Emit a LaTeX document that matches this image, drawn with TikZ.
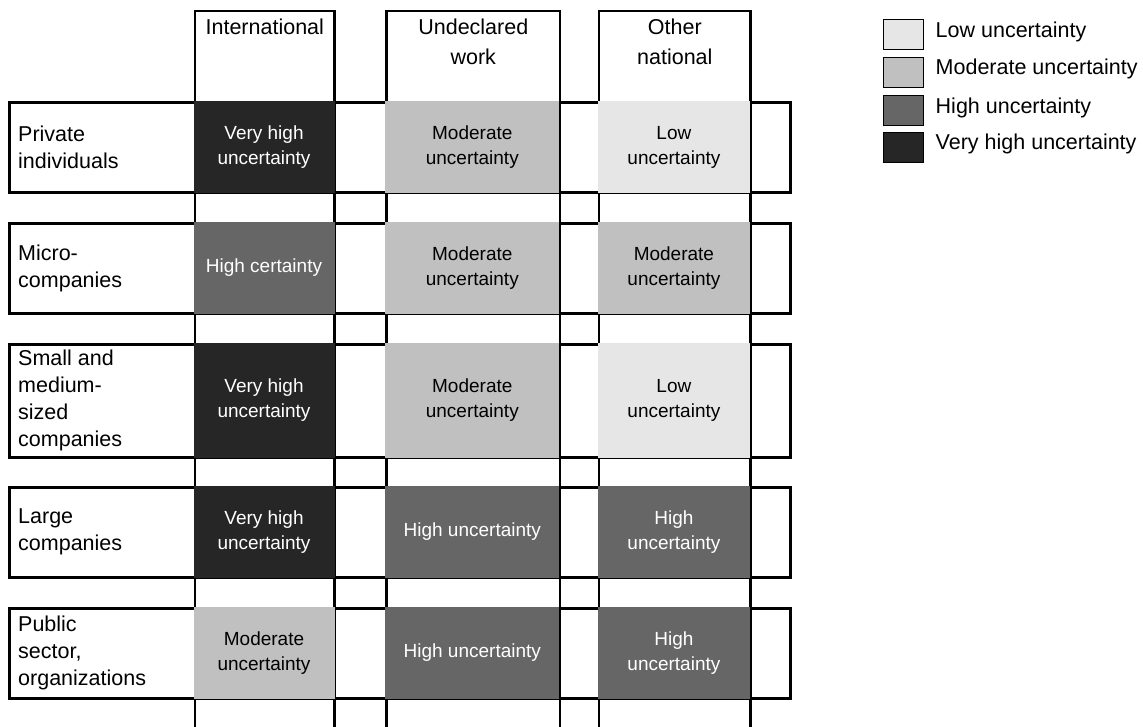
\documentclass[tikz,border=0pt]{standalone}
\usepackage{fontspec}
\setmainfont{Liberation Sans}
\usetikzlibrary{positioning}

\definecolor{lowunc}{HTML}{E6E6E6}
\definecolor{modunc}{HTML}{C0C0C0}
\definecolor{highunc}{HTML}{666666}
\definecolor{vhighunc}{HTML}{262626}

\tikzset{
  rowbox/.style={draw, line width=3pt},
  colbox/.style={draw, line width=2.5pt},
  head/.style={anchor=north, inner sep=0pt, align=center, font=\fontsize{21.5}{30}\selectfont},
  rowlabel/.style={anchor=west, inner sep=0pt, align=left, font=\fontsize{21.5}{27}\selectfont},
  cell/.style={inner sep=0pt, align=center, font=\fontsize{19}{25}\selectfont},
  lowcell/.style={cell, fill=lowunc, text=black},
  modcell/.style={cell, fill=modunc, text=black},
  highcell/.style={cell, fill=highunc, text=white},
  vhighcell/.style={cell, fill=vhighunc, text=white},
  intlcol/.style={minimum width=141pt},
  undcol/.style={minimum width=174pt},
  othcol/.style={minimum width=152.5pt},
  legbox/.style={draw, line width=1pt, minimum width=40pt, minimum height=30pt, inner sep=0pt},
  legtext/.style={anchor=base west, inner sep=0pt, font=\fontsize{21.5}{27}\selectfont}
}

\begin{document}
\begin{tikzpicture}[x=1pt, y=-1pt]
    \useasboundingbox (0,0) rectangle (1143,726);
    \clip (0,0) rectangle (1143,726);

    % rows
    \draw[rowbox] (9.5,102) rectangle (790.5,192);
    \draw[rowbox] (9.5,223) rectangle (790.5,313);
    \draw[rowbox] (9.5,344) rectangle (790.5,457);
    \draw[rowbox] (9.5,487) rectangle (790.5,577);
    \draw[rowbox] (9.5,608) rectangle (790.5,698);

    % columns
    \draw[colbox] (195,11) rectangle (334.7,760);
    \draw[colbox] (386.7,11) rectangle (560,760);
    \draw[colbox] (599,11) rectangle (750.7,760);

    \node[head] (intl) at (264.8,19) {International};
    \node[head] (undecl) at (473.3,19) {Undeclared\\work};
    \node[head] (othnat) at (674.8,19) {Other\\national};

    \node[rowlabel] (priv) at (18,147) {Private\\individuals};
    \node[rowlabel] (micro) at (18,268) {Micro-\\companies};
    \node[rowlabel] (sme) at (18,400.5) {Small and\\medium-\\sized\\companies};
    \node[rowlabel] (large) at (18,532) {Large\\companies};
    \node[rowlabel] (public) at (18,653) {Public\\sector,\\organizations};

    % cells
    \node[vhighcell, intlcol, minimum height=92pt] (privintl) at (264,147) {Very high\\uncertainty};
    \node[modcell, undcol, minimum height=92pt] (privund) at (472.3,147) {Moderate\\uncertainty};
    \node[lowcell, othcol, minimum height=92pt] (privoth) at (673.9,147) {Low\\uncertainty};

    \node[highcell, intlcol, minimum height=92pt] (microintl) at (264,268) {High certainty};
    \node[modcell, undcol, minimum height=92pt] (micround) at (472.3,268) {Moderate\\uncertainty};
    \node[modcell, othcol, minimum height=92pt] (microoth) at (673.9,268) {Moderate\\uncertainty};

    \node[vhighcell, intlcol, minimum height=115pt] (smeintl) at (264,400.5) {Very high\\uncertainty};
    \node[modcell, undcol, minimum height=115pt] (smeund) at (472.3,400.5) {Moderate\\uncertainty};
    \node[lowcell, othcol, minimum height=115pt] (smeoth) at (673.9,400.5) {Low\\uncertainty};

    \node[vhighcell, intlcol, minimum height=92pt] (largeintl) at (264,532) {Very high\\uncertainty};
    \node[highcell, undcol, minimum height=92pt] (largeund) at (472.3,532) {High uncertainty};
    \node[highcell, othcol, minimum height=92pt] (largeoth) at (673.9,532) {High\\uncertainty};

    \node[modcell, intlcol, minimum height=92pt] (publicintl) at (264,653) {Moderate\\uncertainty};
    \node[highcell, undcol, minimum height=92pt] (publicund) at (472.3,653) {High uncertainty};
    \node[highcell, othcol, minimum height=92pt] (publicoth) at (673.9,653) {High\\uncertainty};

    % legend
    \node[legbox, fill=lowunc] (leglow) at (903,34.5) {};
    \node[legbox, fill=modunc] (legmod) at (903,72) {};
    \node[legbox, fill=highunc] (leghigh) at (903,110.5) {};
    \node[legbox, fill=vhighunc] (legvhigh) at (903,147) {};
    \node[legtext] (txtlow) at ([xshift=12pt, yshift=-2.5pt]leglow.east) {Low uncertainty};
    \node[legtext] (txtmod) at ([xshift=12pt, yshift=-2.5pt]legmod.east) {Moderate uncertainty};
    \node[legtext] (txthigh) at ([xshift=12pt, yshift=-2.5pt]leghigh.east) {High uncertainty};
    \node[legtext] (txtvhigh) at ([xshift=12pt, yshift=-2.5pt]legvhigh.east) {Very high uncertainty};
\end{tikzpicture}
\end{document}
